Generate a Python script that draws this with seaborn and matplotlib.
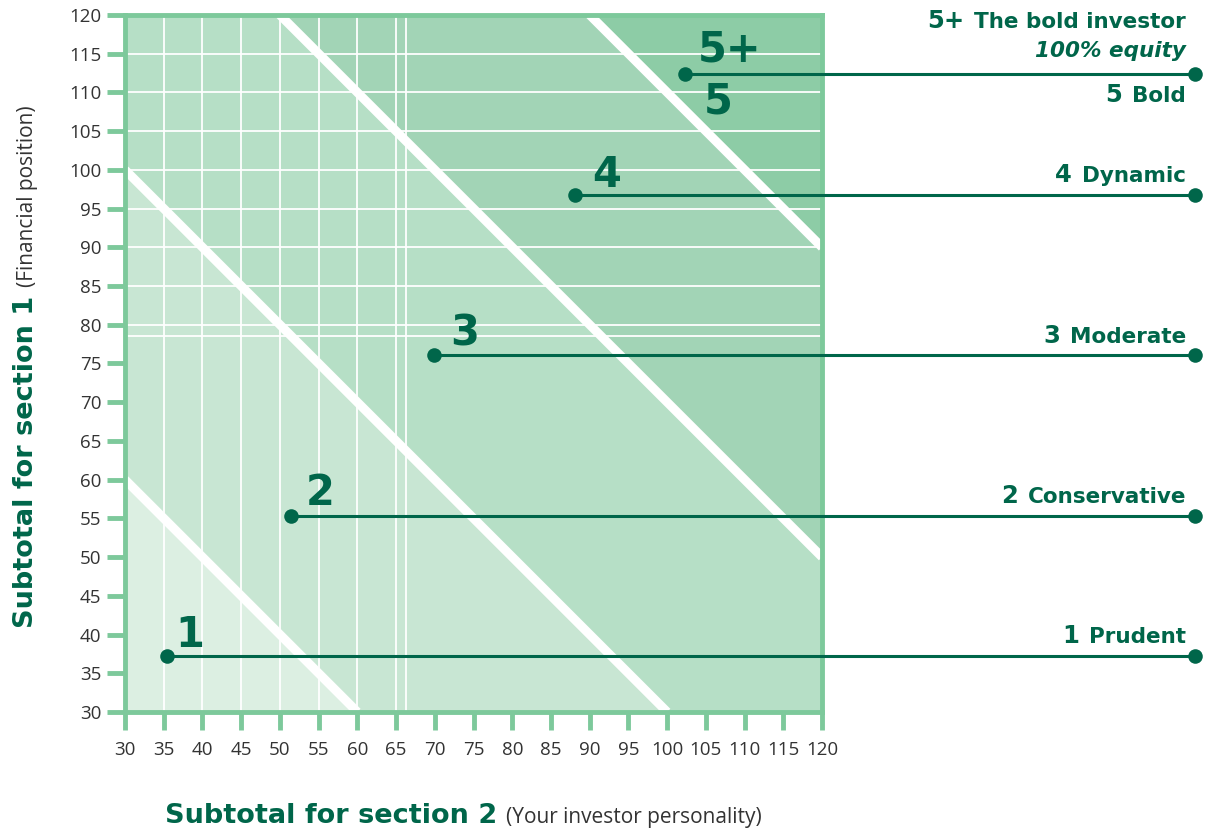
import matplotlib.pyplot as plt
import numpy as np
import pandas as pd
import seaborn as sns

# Investor profiles: dot positions on the grid
profile_ids = ["1", "2", "3", "4", "5+"]
point_x = [35.4, 51.4, 69.9, 88.1, 102.3]
point_y = [37.2, 55.3, 76.1, 96.8, 112.4]
line_end_x = 168.2

# Zone boundaries (x + y = const) and zone fills
zone_limits = [90, 130, 170, 210]
zone_colors = ["#dcefe2", "#c8e6d3", "#b6dfc6", "#a2d4b6", "#8dcca6"]

# Big numbers inside the chart
num_labels = ["1", "2", "3", "4", "5+", "5"]
num_x = [38.4, 55.2, 73.9, 92.2, 108.1, 106.6]
num_y = [40.0, 58.3, 78.9, 99.3, 115.5, 108.8]

# Labels on the right side
right_nums = ["5+", "5", "4", "3", "2", "1"]
right_names = ["The bold investor", "Bold", "Dynamic", "Moderate", "Conservative", "Prudent"]
right_y = [118.3, 108.8, 98.4, 77.6, 57.0, 38.9]
equity_label = "100% equity"
equity_y = 114.6

# Axis ticks and partial grid
ticks = list(range(30, 121, 5))
grid_vx = [35, 40, 45, 50, 55, 60, 65, 66.3]
grid_hy = [78.5, 80, 85, 90, 95, 100, 105, 110, 115]

DARK = "#00664a"
SPINE = "#7dc99b"
GREY = "#333333"
BOLD_FONT = ["DejaVu Sans"]

sns.set_theme(style="white")
plt.rcParams["font.family"] = ["Open Sans", "DejaVu Sans"]

fig = plt.figure(figsize=(12.15, 8.3), dpi=100)
ax = fig.add_axes([0.1029, 0.1422, 0.5737, 0.8398])

# diagonal zones
xs = np.linspace(30, 120, 901)
bounds = [-np.inf] + zone_limits + [np.inf]
for i, c in enumerate(zone_colors):
    lo = np.clip(bounds[i] - xs, 30, 120)
    hi = np.clip(bounds[i + 1] - xs, 30, 120)
    ax.fill_between(xs, lo, hi, color=c, lw=0, zorder=0)

ax.vlines(grid_vx, 30, 120, color="white", lw=1.3, zorder=1)
ax.hlines(grid_hy, 30, 120, color="white", lw=1.3, zorder=1)

for s in zone_limits:
    x0 = max(30, s - 120)
    x1 = min(120, s - 30)
    ax.plot([x0, x1], [s - x0, s - x1], color="white", lw=6.5,
            solid_capstyle="butt", zorder=2)

# connectors and dots
for px, py in zip(point_x, point_y):
    ax.plot([px, line_end_x], [py, py], color=DARK, lw=2.2, clip_on=False, zorder=4)
dots = pd.DataFrame({"x": point_x + [line_end_x] * len(point_x), "y": point_y * 2})
sns.scatterplot(data=dots, x="x", y="y", s=110, color=DARK, linewidth=0,
                clip_on=False, zorder=5, ax=ax)

for s, x, y in zip(num_labels, num_x, num_y):
    ax.text(x, y, s, fontsize=30, fontweight="heavy", color=DARK, family=BOLD_FONT,
            ha="center", va="center", zorder=6)

ax.set_xlim(30, 120)
ax.set_ylim(30, 120)
ax.set_xticks(ticks)
ax.set_yticks(ticks)
ax.set_xlabel("")
ax.set_ylabel("")
ax.tick_params(axis="both", length=13, width=3.5, color=SPINE, labelsize=13.5,
               labelcolor=GREY, left=True, bottom=True)
ax.tick_params(axis="x", pad=8)
ax.tick_params(axis="y", pad=4)
for sp in ax.spines.values():
    sp.set_color(SPINE)
    sp.set_linewidth(3.5)
    sp.set_zorder(3)

# right-side labels (number + name)
fig.canvas.draw()
renderer = fig.canvas.get_renderer()
inv = ax.transData.inverted()
for n, name, y in zip(right_nums, right_names, right_y):
    t = ax.text(167.0, y, name, fontsize=15.5, fontweight="bold", color=DARK,
                family=BOLD_FONT, ha="right", va="baseline", clip_on=False)
    bb = t.get_window_extent(renderer)
    xn = inv.transform((bb.x0 - 10, 0))[0]
    ax.text(xn, y, n, fontsize=17.5, fontweight="bold", color=DARK,
            family=BOLD_FONT, ha="right", va="baseline", clip_on=False)
ax.text(167.0, equity_y, equity_label, fontsize=15.5, fontweight="bold",
        fontstyle="italic", color=DARK, family=BOLD_FONT, ha="right",
        va="baseline", clip_on=False)

# axis titles: bold part + regular note
W, H = fig.bbox.width, fig.bbox.height
tx = fig.text(165 / W, 1 - 823 / H, "Subtotal for section 2", fontsize=19.5,
              fontweight="bold", color=DARK, family=BOLD_FONT, ha="left", va="baseline")
bb = tx.get_window_extent(renderer)
fig.text((bb.x1 + 9) / W, 1 - 823 / H, "(Your investor personality)", fontsize=15,
         color=GREY, ha="left", va="baseline")

ty = fig.text(33 / W, 1 - 628 / H, "Subtotal for section 1", fontsize=19.5,
              fontweight="bold", color=DARK, family=BOLD_FONT, rotation=90,
              rotation_mode="anchor", ha="left", va="baseline")
bb = ty.get_window_extent(renderer)
fig.text(33 / W, (bb.y1 + 9) / H, "(Financial position)", fontsize=15,
         color=GREY, rotation=90, rotation_mode="anchor", ha="left", va="baseline")

fig.savefig("out.png", dpi=100)
